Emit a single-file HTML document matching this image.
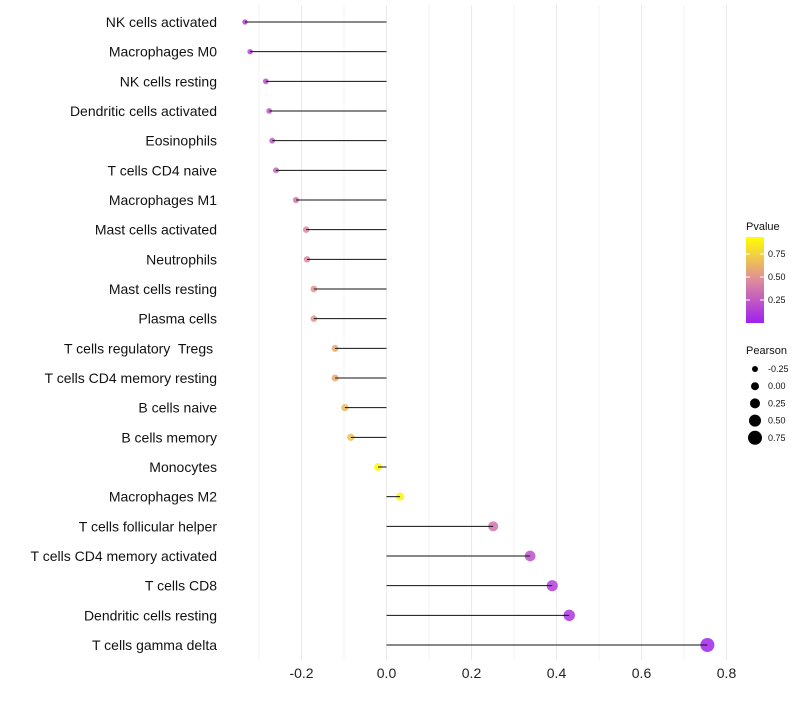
<!DOCTYPE html>
<html><head><meta charset="utf-8"><style>
body{margin:0;background:#fff;font-family:"Liberation Sans",sans-serif}
text{white-space:pre}
</style></head><body>
<svg id="chart" width="800" height="700" xmlns="http://www.w3.org/2000/svg">
<defs><linearGradient id="pg" x1="0" y1="1" x2="0" y2="0">
<stop offset="0" stop-color="#a020f0"/><stop offset="0.5" stop-color="#de8c9c"/><stop offset="1" stop-color="#ffff00"/></linearGradient></defs>
<g id="grid"></g><g id="points"></g><g id="marks"></g><g id="labels"></g><g id="legend"></g>
</svg>
<script>
const categories=["NK cells activated","Macrophages M0","NK cells resting","Dendritic cells activated","Eosinophils","T cells CD4 naive","Macrophages M1","Mast cells activated","Neutrophils","Mast cells resting","Plasma cells","T cells regulatory  Tregs ","T cells CD4 memory resting","B cells naive","B cells memory","Monocytes","Macrophages M2","T cells follicular helper","T cells CD4 memory activated","T cells CD8","Dendritic cells resting","T cells gamma delta"];
const pearson=[-0.333,-0.321,-0.284,-0.276,-0.269,-0.26,-0.213,-0.189,-0.187,-0.171,-0.171,-0.121,-0.121,-0.098,-0.084,-0.02,0.032,0.251,0.338,0.39,0.43,0.755];
const pvalue=[0.15,0.18,0.22,0.25,0.27,0.3,0.42,0.48,0.48,0.55,0.55,0.64,0.64,0.7,0.74,0.97,0.95,0.38,0.22,0.14,0.1,0.02];
const xTicks=[-0.2,0,0.2,0.4,0.6,0.8];
const xTickLabels=["-0.2","0.0","0.2","0.4","0.6","0.8"];
const pTicks=[0.25,0.5,0.75];
const sizeTicks=[-0.25,0,0.25,0.5,0.75];
const sizeTickLabels=["-0.25","0.00","0.25","0.50","0.75"];
const NS="http://www.w3.org/2000/svg";
const x=v=>386.5+v*425;
const y=i=>22+i*(623/21);
const r=v=>3+(v+0.25)*4;
function lerp(a,b,t){return a.map((c,i)=>Math.round(c+(b[i]-c)*t));}
function col(p){const A=[160,32,240],M=[222,140,156],B=[255,255,0];const c=p<0.5?lerp(A,M,p/0.5):lerp(M,B,(p-0.5)/0.5);return `rgb(${c})`;}
function mk(parent,tag,attrs,text){const e=document.createElementNS(NS,tag);for(const k in attrs)e.setAttribute(k,attrs[k]);if(text!==undefined)e.textContent=text;document.getElementById(parent).appendChild(e);return e;}
for(let v=-0.3;v<=0.81;v+=0.1){const g=mk("grid","line",{x1:x(v),x2:x(v),y1:5,y2:660,stroke:"#ebebeb","stroke-width":Math.abs(Math.round(v*10))%2==0?1.1:0.6});

}
xTicks.forEach((v,i)=>{const t=mk("labels","text",{x:x(v),y:678,"text-anchor":"middle","font-size":14,fill:"#222"},xTickLabels[i]);

});
categories.forEach((c,i)=>{
const t=mk("labels","text",{x:217,y:y(i)+5,"text-anchor":"end","font-size":14,fill:"#111"},c);


const d=mk("points","circle",{cx:x(pearson[i]),cy:y(i),r:r(pearson[i]),fill:col(pvalue[i]),"fill-opacity":0.85});


const l=mk("marks","line",{x1:x(0),x2:x(pearson[i]),y1:y(i),y2:y(i),stroke:"#111","stroke-width":1});


});
mk("legend","text",{x:746,y:230,"font-size":11,fill:"#111"},"Pvalue");
const cb=mk("legend","rect",{x:746,y:237,width:18,height:86,fill:"url(#pg)"});


pTicks.forEach(p=>{const yy=323-p*92;mk("legend","line",{x1:746,x2:750,y1:yy,y2:yy,stroke:"#fff"});mk("legend","line",{x1:760,x2:764,y1:yy,y2:yy,stroke:"#fff"});
const t=mk("legend","text",{x:768,y:yy+3,"font-size":9,fill:"#111"},p.toFixed(2));

});
mk("legend","text",{x:746,y:354,"font-size":11,fill:"#111"},"Pearson");
sizeTicks.forEach((v,i)=>{const yy=369+i*17.2;
const c=mk("legend","circle",{cx:755,cy:yy,r:r(v),fill:"#000"});


mk("legend","text",{x:768,y:yy+3,"font-size":9,fill:"#111"},sizeTickLabels[i]);});
</script>
</body></html>
